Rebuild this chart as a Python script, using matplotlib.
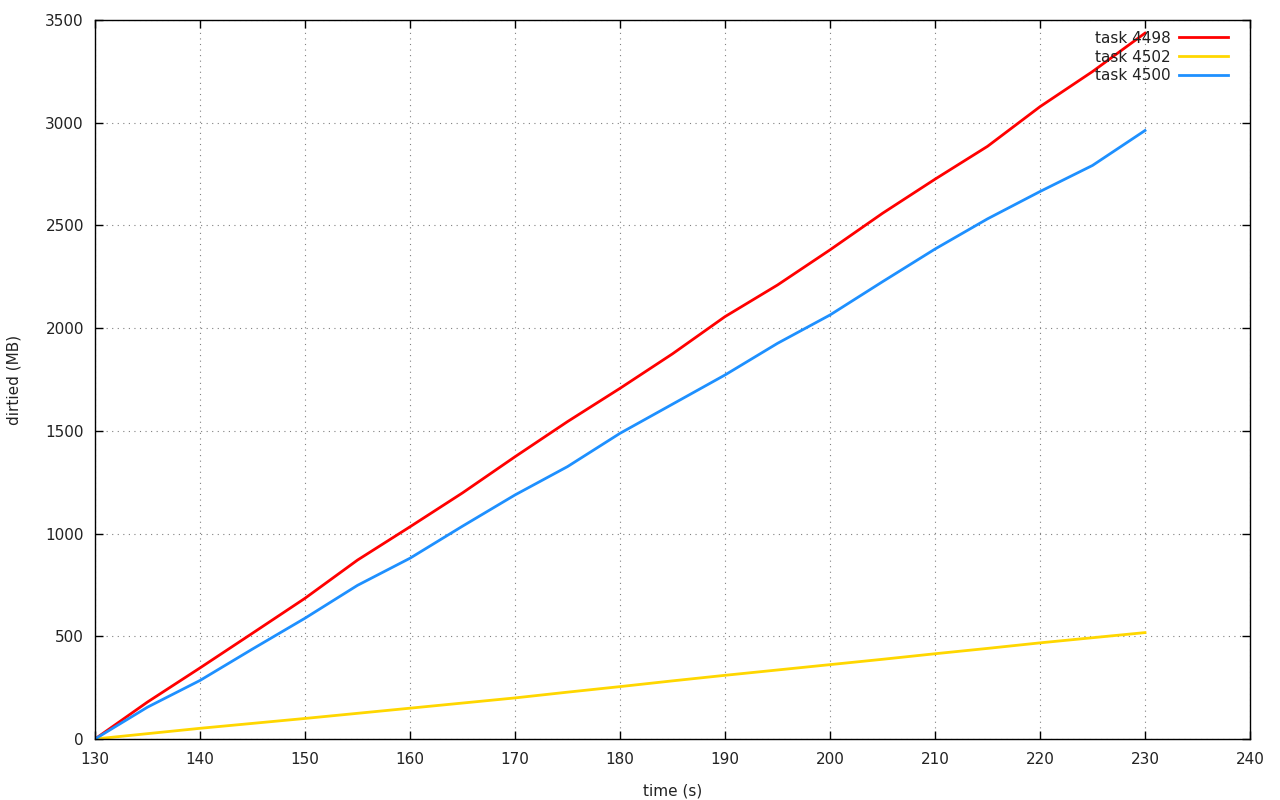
import matplotlib
matplotlib.use("Agg")
import matplotlib.pyplot as plt

time_s = [130, 135, 140, 145, 150, 155, 160, 165, 170, 175, 180, 185, 190,
          195, 200, 205, 210, 215, 220, 225, 230]
task_4498 = [0, 180, 346, 515, 685, 871, 1033, 1198, 1374, 1545, 1707, 1875,
             2056, 2210, 2381, 2559, 2725, 2885, 3078, 3249, 3436]
task_4500 = [0, 155, 285, 438, 588, 748, 880, 1036, 1188, 1326, 1488, 1630,
             1772, 1926, 2064, 2226, 2385, 2532, 2665, 2792, 2962]
task_4502 = [0, 26, 52, 76, 100, 125, 150, 175, 200, 228, 255, 283, 310,
             336, 362, 388, 415, 441, 468, 493, 518]

fig = plt.figure(figsize=(12.8, 8), dpi=100)
ax = fig.add_axes([95/1280, 61/800, (1250-95)/1280, (739-20)/800])

ax.plot(time_s, task_4498, color="#ff0000", lw=2.0, label="task 4498")
ax.plot(time_s, task_4502, color="#ffd700", lw=2.0, label="task 4502")
ax.plot(time_s, task_4500, color="#1e90ff", lw=2.0, label="task 4500")

ax.set_xlim(130, 240)
ax.set_ylim(0, 3500)
ax.set_xticks(range(130, 241, 10))
ax.set_yticks(range(0, 3501, 500))
ax.grid(True, linestyle=(0, (1, 4)), color="#808080", lw=0.8)
ax.tick_params(direction="in", length=6, width=1, top=True, right=True,
               labelsize=11, pad=8, labelcolor="#222222")
ax.tick_params(axis="x", pad=9)
for s in ax.spines.values():
    s.set_linewidth(1)
ax.set_xlabel("time (s)", fontsize=11, labelpad=12, color="#222222")
ax.set_ylabel("dirtied (MB)", fontsize=11, labelpad=17, color="#222222")

leg = ax.legend(loc="upper right", frameon=False, markerfirst=False,
                fontsize=11, handlelength=3.2, labelspacing=0.25,
                borderaxespad=0.3, handletextpad=0.55,
                bbox_to_anchor=(1 - 11/1155, 1))
for t in leg.get_texts():
    t.set_color("#222222")

fig.savefig("out.png", dpi=100)
